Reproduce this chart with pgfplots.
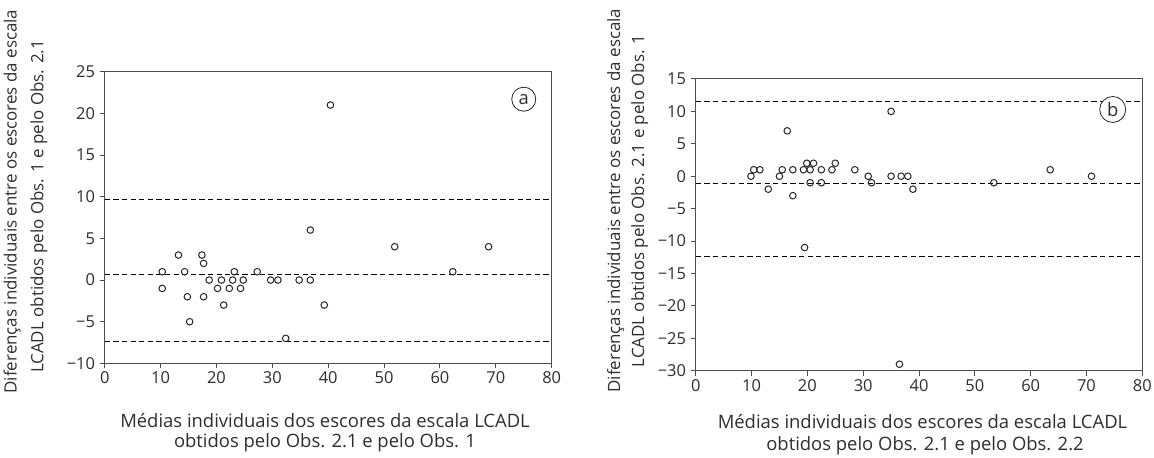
\documentclass[border=0pt]{standalone}
\usepackage{fontspec}
\setmainfont{Open Sans}
\usepackage{pgfplots}
\pgfplotsset{compat=1.18}
\definecolor{axc}{HTML}{4D4D4D}
\definecolor{txt}{HTML}{2E2E2E}
\newcommand{\fs}{\fontsize{17}{20}\selectfont}
\newcommand{\fx}{\fontsize{18.5}{22}\selectfont}
\newcommand{\ft}{\fontsize{16.5}{20}\selectfont}
\pgfplotsset{
  baplot/.style={
    scale only axis,
    xmin=0, xmax=80,
    xtick={0,10,...,80},
    tick align=outside, tick pos=left,
    major tick length=5bp,
    axis line style={axc, line width=1bp},
    tick style={axc, line width=1bp},
    /pgf/number format/assume math mode=true,
    ticklabel style={font=\ft, text=txt},
    yticklabel style={inner sep=4.5bp},
    clip=false,
  },
  limline/.style={black, line width=0.9bp, dash pattern=on 5.3bp off 3.3bp, no marks},
  pts/.style={only marks, mark=o, mark size=3.3bp, mark options={line width=1bp, draw=black!85, fill=white}},
}
\begin{document}
\begin{tikzpicture}
\useasboundingbox (0bp,0bp) rectangle (1154bp,458bp);
% ---- panel a ----
\begin{axis}[baplot, at={(104.7bp,94.6bp)}, anchor=south west, width=447bp, height=291.7bp,
  ymin=-10, ymax=25, ytick={-10,-5,...,25},
  yticklabels={−10,−5,0,5,10,15,20,25}]
\addplot[limline] coordinates {(0,9.68) (80,9.68)};
\addplot[limline] coordinates {(0,0.68) (80,0.68)};
\addplot[limline] coordinates {(0,-7.4) (80,-7.4)};
\addplot[pts] coordinates {
(40.4,21) (36.8,6) (51.9,4) (62.3,1) (68.7,4) (13.2,3) (17.4,3) (17.7,2)
(10.3,1) (14.3,1) (23.2,1) (27.3,1) (18.7,0) (20.9,0) (22.9,0) (24.8,0)
(29.7,0) (31.0,0) (34.8,0) (36.8,0) (10.3,-1) (20.2,-1) (22.3,-1) (24.3,-1)
(14.8,-2) (17.7,-2) (21.3,-3) (39.3,-3) (15.2,-5) (32.4,-7)};
\node[draw=black!85, line width=0.8bp, circle, minimum size=24bp, inner sep=0pt, font=\fx, text=txt] at (axis cs:75.0,21.7) {a};
\end{axis}
% ---- panel b ----
\begin{axis}[baplot, at={(695.7bp,87.3bp)}, anchor=south west, width=446.6bp, height=291.7bp,
  ymin=-30, ymax=15, ytick={-30,-25,...,15},
  yticklabels={−30,−25,−20,−15,−10,−5,0,5,10,15}]
\addplot[limline] coordinates {(0,11.54) (80,11.54)};
\addplot[limline] coordinates {(0,-1.1) (80,-1.1)};
\addplot[limline] coordinates {(0,-12.35) (80,-12.35)};
\addplot[pts] coordinates {
(35.0,10) (16.4,7) (9.9,0) (10.4,1) (11.5,1) (13.0,-2) (15.0,0) (15.5,1)
(17.4,1) (17.4,-3) (19.3,1) (19.9,2) (20.5,1) (21.1,2) (20.5,-1) (22.5,1)
(22.5,-1) (24.4,1) (25.0,2) (28.5,1) (30.9,0) (31.5,-1) (35.0,0) (36.8,0)
(38.0,0) (38.9,-2) (19.5,-11) (36.5,-29) (53.4,-1) (63.5,1) (70.9,0)};
\node[draw=black!85, line width=0.8bp, circle, minimum size=26bp, inner sep=0pt, font=\fx, text=txt, fill=white] at (axis cs:74.7,10.3) {b};
\end{axis}
% ---- labels ----
\begin{scope}[every node/.style={font=\fs, text=txt, inner sep=0pt}]
\node[rotate=90, anchor=base] at (16.7bp,256.5bp) {Diferenças individuais entre os escores da escala};
\node[rotate=90, anchor=base] at (43.3bp,251.5bp) {LCADL obtidos pelo Obs. 1 e pelo Obs. 2.1};
\node[rotate=90, anchor=base] at (620bp,257.5bp) {Diferenças individuais entre os escores da escala};
\node[rotate=90, anchor=base] at (644bp,257bp) {LCADL obtidos pelo Obs. 2.1 e pelo Obs. 1};
\end{scope}
\begin{scope}[every node/.style={font=\fx, text=txt, inner sep=0pt}]
\node[anchor=base] at (325bp,30.3bp) {Médias individuais dos escores da escala LCADL};
\node[anchor=base] at (325bp,11bp) {obtidos pelo Obs. 2.1 e pelo Obs. 1};
\node[anchor=base] at (922.5bp,29.7bp) {Médias individuais dos escores da escala LCADL};
\node[anchor=base] at (925bp,8bp) {obtidos pelo Obs. 2.1 e pelo Obs. 2.2};
\end{scope}
\end{tikzpicture}
\end{document}
